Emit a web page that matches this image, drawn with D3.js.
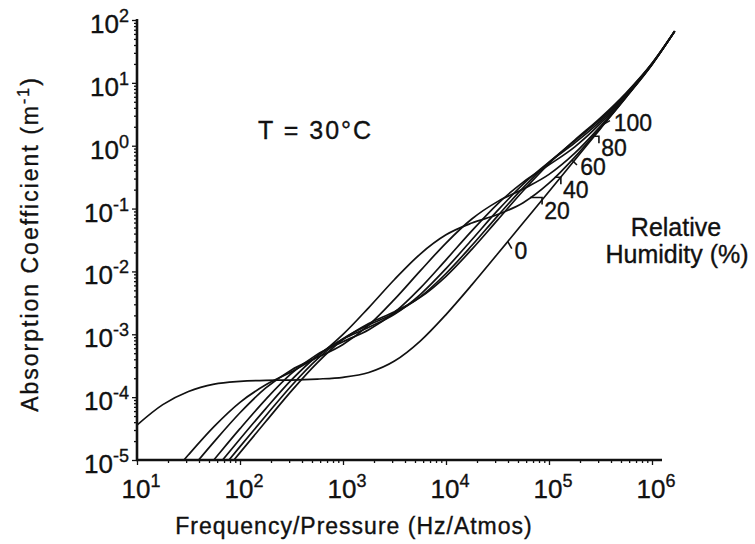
<!DOCTYPE html>
<html>
<head>
<meta charset="utf-8">
<script src="https://cdn.jsdelivr.net/npm/d3@7"></script>
<style>
  body { margin: 0; background: #fff; }
  text { font-family: "Liberation Sans", Arial, sans-serif; fill: #111; stroke: #111; stroke-width: 0.35px; }
</style>
</head>
<body>
<div id="chart"></div>
<script>
// frequency / pressure grid (Hz/atm)
const freqs = [10, 17.8, 31.6, 56.2, 100, 178, 316, 562, 1000, 1780, 3160, 5620,
  1e4, 1.78e4, 3.16e4, 5.62e4, 1e5, 1.78e5, 3.16e5, 5.62e5, 1e6, 1.66e6];

// absorption coefficient (m^-1), one list per relative humidity curve
const rh0   = [3.6e-5, 7.6e-5, 1.23e-4, 1.61e-4, 1.78e-4, 1.85e-4, 1.87e-4, 1.94e-4, 2.07e-4, 2.47e-4, 3.75e-4, 7.8e-4,
  2.06e-3, 6.1e-3, 0.0189, 0.0594, 0.187, 0.592, 1.87, 5.92, 19.5, 66];
const rh10  = [1.27e-6, 3.96e-6, 1.21e-5, 3.43e-5, 8.28e-5, 1.57e-4, 2.53e-4, 4.45e-4, 9.96e-4, 2.66e-3, 7.44e-3, 0.0189,
  0.0382, 0.0588, 0.0804, 0.124, 0.253, 0.659, 1.94, 5.99, 19.6, 66];
const rh20  = [6.5e-7, 2.04e-6, 6.4e-6, 1.96e-5, 5.64e-5, 1.40e-4, 2.71e-4, 4.27e-4, 6.90e-4, 1.40e-3, 3.59e-3, 0.0102,
  0.0283, 0.0683, 0.129, 0.205, 0.350, 0.761, 2.04, 6.09, 19.7, 66];
const rh40  = [3.3e-7, 1.04e-6, 3.27e-6, 1.02e-5, 3.15e-5, 9.22e-5, 2.38e-4, 4.79e-4, 7.63e-4, 1.18e-3, 2.23e-3, 5.43e-3,
  0.0153, 0.0441, 0.118, 0.264, 0.496, 0.960, 2.26, 6.32, 19.9, 66];
const rh60  = [2.1e-7, 6.9e-7, 2.19e-6, 6.9e-6, 2.16e-5, 6.57e-5, 1.88e-4, 4.52e-4, 8.39e-4, 1.29e-3, 2.08e-3, 4.29e-3,
  0.0111, 0.0319, 0.0925, 0.245, 0.548, 1.11, 2.47, 6.55, 20.1, 66];
const rh80  = [1.6e-7, 5.2e-7, 1.65e-6, 5.2e-6, 1.63e-5, 5.05e-5, 1.52e-4, 4.02e-4, 8.52e-4, 1.41e-3, 2.16e-3, 3.93e-3,
  9.27e-3, 0.0258, 0.0760, 0.216, 0.544, 1.20, 2.64, 6.77, 20.3, 66];
const rh100 = [1.3e-7, 4.2e-7, 1.32e-6, 4.17e-6, 1.31e-5, 4.09e-5, 1.26e-4, 3.52e-4, 8.25e-4, 1.49e-3, 2.29e-3, 3.86e-3,
  8.37e-3, 0.0224, 0.0654, 0.192, 0.519, 1.23, 2.78, 6.97, 20.5, 67];

// curve labels and the frequency where each leader meets the curves
const labelText = ["0", "20", "40", "60", "80", "100"];
const labelFreq = [3.98e4, 6.55e4, 1.14e5, 1.67e5, 2.67e5, 3.34e5];

const xTickExp = [1, 2, 3, 4, 5, 6];
const yTickExp = [-5, -4, -3, -2, -1, 0, 1, 2];

const width = 755, height = 544;
const svg = d3.select("#chart").append("svg")
  .attr("width", width).attr("height", height);

const x = d3.scaleLog().domain([10, 1e6]).range([137, 652]);
const y = d3.scaleLog().domain([1e-5, 1e2]).range([460, 20]);

svg.append("clipPath").attr("id", "plotclip")
  .append("rect").attr("x", 137).attr("y", 0).attr("width", 600).attr("height", 460);

const humid = [rh10, rh20, rh40, rh60, rh80, rh100];
const series = [rh0].concat(humid);
const line = d3.line()
  .x((d, i) => x(freqs[i]))
  .y(d => y(d))
  .curve(d3.curveMonotoneX);

svg.append("g").attr("clip-path", "url(#plotclip)")
  .selectAll("path").data(series).enter().append("path")
  .attr("d", line)
  .attr("fill", "none")
  .attr("stroke", "#111")
  .attr("stroke-width", 1.7);

// minor tick values
const minorX = [], minorY = [];
for (let e = 1; e < 6; e++) for (let m = 2; m < 10; m++) minorX.push(m * Math.pow(10, e));
for (let e = -5; e < 2; e++) for (let m = 2; m < 10; m++) minorY.push(m * Math.pow(10, e));

// y axis
const yAxisG = svg.append("g").attr("transform", "translate(137,0)");
yAxisG.append("g").call(d3.axisLeft(y).tickValues(minorY).tickSize(3).tickFormat(""));
yAxisG.append("g").call(d3.axisLeft(y).tickValues(yTickExp.map(e => Math.pow(10, e))).tickSize(5).tickFormat(""));
yAxisG.selectAll(".domain").remove();
yAxisG.selectAll(".tick line").attr("stroke", "#111").attr("stroke-width", 1.3);
svg.append("line").attr("x1", 137).attr("x2", 137).attr("y1", y(100) - 1).attr("y2", 461)
  .attr("stroke", "#111").attr("stroke-width", 2.6);

// x axis
const xAxisG = svg.append("g").attr("transform", "translate(0,460)");
xAxisG.append("g").call(d3.axisBottom(x).tickValues(minorX).tickSize(3).tickFormat(""));
xAxisG.append("g").call(d3.axisBottom(x).tickValues(xTickExp.map(e => Math.pow(10, e))).tickSize(5).tickFormat(""));
xAxisG.selectAll(".domain").remove();
xAxisG.selectAll(".tick line").attr("stroke", "#111").attr("stroke-width", 1.3);
svg.append("line").attr("x1", 136).attr("x2", 662).attr("y1", 460).attr("y2", 460)
  .attr("stroke", "#111").attr("stroke-width", 2.6);

// tick labels: 10 with a superscript exponent
function powLabel(sel, e) {
  sel.append("tspan").text("10");
  sel.append("tspan").attr("dy", -11).attr("font-size", 18).text(e < 0 ? "-" + (-e) : e);
}
yTickExp.forEach(e => {
  svg.append("text").attr("x", 129).attr("y", y(Math.pow(10, e)) + 13)
    .attr("text-anchor", "end").attr("font-size", 26).call(powLabel, e);
});
xTickExp.forEach(e => {
  svg.append("text").attr("x", x(Math.pow(10, e)) + 4).attr("y", 498)
    .attr("text-anchor", "middle").attr("font-size", 26).call(powLabel, e);
});

// axis titles
svg.append("text").attr("x", 354).attr("y", 534).attr("text-anchor", "middle")
  .attr("font-size", 23).attr("letter-spacing", 1).text("Frequency/Pressure (Hz/Atmos)");
const yt = svg.append("text").attr("transform", "translate(38,244) rotate(-90)")
  .attr("text-anchor", "middle").attr("font-size", 23).attr("letter-spacing", 2);
yt.append("tspan").text("Absorption Coefficient (m");
yt.append("tspan").attr("dy", -9).attr("font-size", 16).text("-1");
yt.append("tspan").attr("dy", 9).text(")");

// temperature note
svg.append("text").attr("x", 258).attr("y", 139).attr("font-size", 25)
  .attr("letter-spacing", 2).text("T = 30°C");

// value of a series at frequency f (log-linear between grid points)
function valueAt(s, f) {
  const lf = Math.log10(f);
  for (let i = 0; i < freqs.length - 1; i++) {
    const a = Math.log10(freqs[i]), b = Math.log10(freqs[i + 1]);
    if (lf >= a && lf <= b) {
      const t = (lf - a) / (b - a);
      return Math.pow(10, Math.log10(s[i]) * (1 - t) + Math.log10(s[i + 1]) * t);
    }
  }
  return s[s.length - 1];
}

// labels sit under the bundle: "0" on the dry curve, the others on the lowest humid curve
const labelOffset = [[13, 9], [27, 13], [21, 13], [21, 7], [21, 12], [30, -2]];
labelText.forEach((t, i) => {
  const f = labelFreq[i];
  const v = i === 0 ? valueAt(rh0, f) : d3.min(humid, s => valueAt(s, f));
  const px = x(f), py = y(v);
  const cx = px + labelOffset[i][0], cy = py + labelOffset[i][1];
  const halfW = t.length * 7;
  const lead = cy - 9 > py
    ? `M${px},${py} H${cx - halfW - 1} V${py + 7}`
    : `M${px},${py} L${cx - halfW - 2},${cy - 2}`;
  svg.append("path").attr("d", lead)
    .attr("fill", "none").attr("stroke", "#111").attr("stroke-width", 1.6);
  svg.append("text").attr("x", cx).attr("y", cy + 8).attr("text-anchor", "middle")
    .attr("font-size", 23).text(t);
});

svg.append("text").attr("x", 676).attr("y", 236).attr("text-anchor", "middle")
  .attr("font-size", 25).text("Relative");
svg.append("text").attr("x", 677).attr("y", 263).attr("text-anchor", "middle")
  .attr("font-size", 25).text("Humidity (%)");
</script>
</body>
</html>
